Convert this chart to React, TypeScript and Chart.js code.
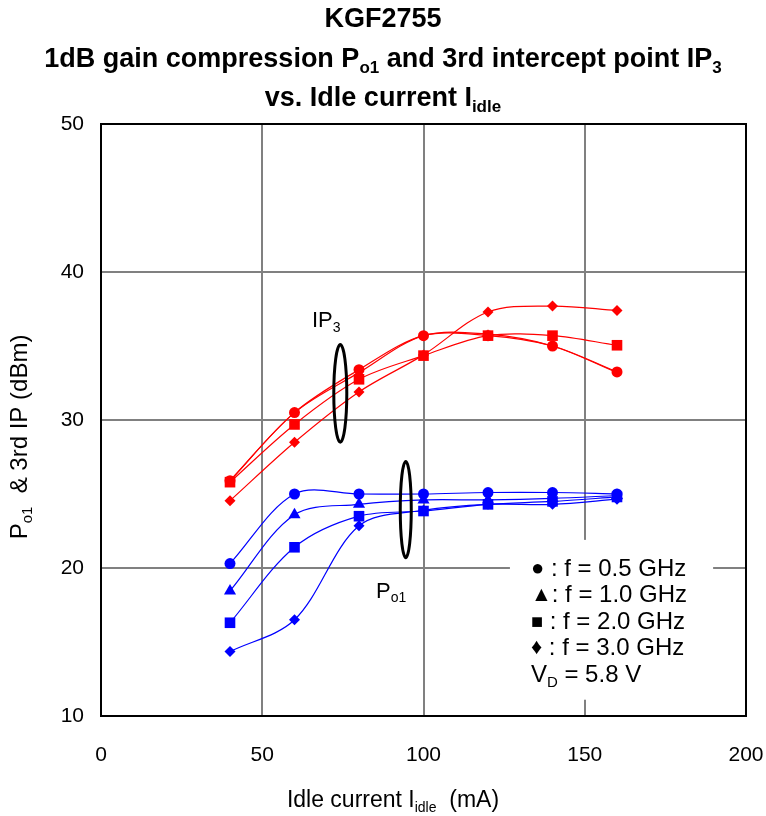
import React, { useEffect, useRef } from 'react';
import { Chart, registerables } from 'chart.js';
Chart.register(...registerables);

// Idle current (mA)
const currents = [40, 60, 80, 100, 120, 140, 160];
// IP3 (dBm)
const ip3_05 = [25.9, 30.5, 33.4, 35.7, 35.7, 35.0, 33.25];
const ip3_10 = [25.9, 30.5, 33.2, 35.7, 35.8, 35.0, 33.2];
const ip3_20 = [25.8, 29.7, 32.75, 34.35, 35.7, 35.7, 35.05];
const ip3_30 = [24.55, 28.5, 31.9, 34.4, 37.3, 37.7, 37.4];
// Po1 (dBm)
const po1_05 = [20.3, 25.0, 25.0, 25.0, 25.1, 25.1, 25.0];
const po1_10 = [18.45, 23.6, 24.3, 24.6, 24.6, 24.7, 24.9];
const po1_20 = [16.3, 21.4, 23.5, 23.85, 24.3, 24.5, 24.8];
const po1_30 = [14.35, 16.5, 22.85, 23.9, 24.3, 24.3, 24.65];

const xTickValues = [0, 50, 100, 150, 200];
const yTickValues = [10, 20, 30, 40, 50];

const legendLines = [
  ['●', ' : f = 0.5 GHz'],
  ['▲', ': f = 1.0 GHz'],
  ['■', ' : f = 2.0 GHz'],
  ['♦', ' : f = 3.0 GHz'],
];

const FONT = "Arial, 'Liberation Sans', sans-serif";
const RED = '#ff0000';
const BLUE = '#0000ff';

type Seg = { t: string; sub?: boolean };

function segFont(size: number, bold: boolean, sub?: boolean) {
  const s = sub ? Math.round(size * 0.62) : size;
  return `${bold ? 'bold ' : ''}${s}px ${FONT}`;
}
function richWidth(ctx: CanvasRenderingContext2D, segs: Seg[], size: number, bold: boolean) {
  let w = 0;
  for (const s of segs) {
    ctx.font = segFont(size, bold, s.sub);
    w += ctx.measureText(s.t).width;
  }
  return w;
}
function drawRich(
  ctx: CanvasRenderingContext2D,
  segs: Seg[],
  x: number,
  y: number,
  size: number,
  bold: boolean,
  align: 'left' | 'center'
) {
  const w = richWidth(ctx, segs, size, bold);
  let cx = align === 'center' ? x - w / 2 : x;
  ctx.textAlign = 'left';
  ctx.textBaseline = 'alphabetic';
  for (const s of segs) {
    ctx.font = segFont(size, bold, s.sub);
    ctx.fillText(s.t, cx, s.sub ? y + size * 0.22 : y);
    cx += ctx.measureText(s.t).width;
  }
}

function mk(label: string, vals: number[], color: string, style: string, radius: number) {
  return {
    label,
    data: currents.map((c, i) => ({ x: c, y: vals[i] })),
    borderColor: color,
    backgroundColor: color,
    borderWidth: 1.2,
    pointStyle: style,
    pointRadius: radius,
    pointBorderWidth: 0,
    pointBackgroundColor: color,
    tension: 0.33,
    fill: false,
  };
}

const decorPlugin = {
  id: 'decor',
  afterDatasetsDraw(chart: any) {
    const { ctx, chartArea, scales } = chart;
    const xs = scales.x;
    const ys = scales.y;
    ctx.save();
    // plot border
    ctx.strokeStyle = '#000';
    ctx.lineWidth = 2;
    ctx.strokeRect(chartArea.left, chartArea.top, chartArea.right - chartArea.left, chartArea.bottom - chartArea.top);

    // ellipses
    ctx.lineWidth = 3;
    const ell = (cxv: number, y1: number, y2: number, rx: number) => {
      const cx = xs.getPixelForValue(cxv);
      const p1 = ys.getPixelForValue(y1);
      const p2 = ys.getPixelForValue(y2);
      ctx.beginPath();
      ctx.ellipse(cx, (p1 + p2) / 2, rx, Math.abs(p1 - p2) / 2, 0, 0, Math.PI * 2);
      ctx.stroke();
    };
    ell(74.2, 35.1, 28.5, 6.5);
    ell(94.5, 27.2, 20.7, 5.5);

    ctx.fillStyle = '#000';
    drawRich(ctx, [{ t: 'IP' }, { t: '3', sub: true }], xs.getPixelForValue(65.4), ys.getPixelForValue(36.3), 22, false, 'left');
    drawRich(ctx, [{ t: 'P' }, { t: 'o1', sub: true }], xs.getPixelForValue(85.3), ys.getPixelForValue(18.0), 22, false, 'left');

    // legend box
    const bx = xs.getPixelForValue(126.8);
    const bx2 = xs.getPixelForValue(189.8);
    const by = ys.getPixelForValue(21.9);
    const by2 = ys.getPixelForValue(11.1);
    ctx.fillStyle = '#fff';
    ctx.fillRect(bx, by, bx2 - bx, by2 - by);
    ctx.fillStyle = '#000';
    const lx = bx + 21;
    let ly = by + 36;
    for (const [sym, txt] of legendLines) {
      ctx.font = `${sym === '■' ? 20 : sym === '▲' ? 21 : 22}px ${FONT}`;
      ctx.textAlign = 'left';
      ctx.textBaseline = 'alphabetic';
      ctx.fillText(sym, lx, ly - 1);
      const sw = ctx.measureText(sym).width;
      ctx.font = `24px ${FONT}`;
      ctx.fillText(txt, lx + sw, ly);
      ly += 26.5;
    }
    drawRich(ctx, [{ t: 'V' }, { t: 'D', sub: true }, { t: ' = 5.8 V' }], lx, ly, 24, false, 'left');

    // titles
    const W = chart.width;
    drawRich(ctx, [{ t: 'KGF2755' }], W / 2, 27, 27, true, 'center');
    drawRich(
      ctx,
      [{ t: '1dB gain compression P' }, { t: 'o1', sub: true }, { t: ' and 3rd intercept point IP' }, { t: '3', sub: true }],
      W / 2,
      67,
      27,
      true,
      'center'
    );
    drawRich(ctx, [{ t: 'vs. Idle current I' }, { t: 'idle', sub: true }], W / 2, 106, 27, true, 'center');

    // axis titles
    drawRich(ctx, [{ t: 'Idle current I' }, { t: 'idle', sub: true }, { t: '  (mA)' }], 393, 807, 23, false, 'center');
    ctx.save();
    ctx.translate(27, (chartArea.top + chartArea.bottom) / 2 + 17);
    ctx.rotate(-Math.PI / 2);
    drawRich(ctx, [{ t: 'P' }, { t: 'o1', sub: true }, { t: '  & 3rd IP (dBm)' }], 0, 0, 24, false, 'center');
    ctx.restore();

    ctx.restore();
  },
};

export default function App() {
  const ref = useRef<HTMLCanvasElement | null>(null);
  useEffect(() => {
    document.body.style.margin = '0';
    const canvas = ref.current!;
    const chart = new Chart(canvas, {
      type: 'line',
      data: {
        datasets: [
          mk('IP3 0.5', ip3_05, RED, 'circle', 5.5),
          mk('IP3 1.0', ip3_10, RED, 'triangle', 5),
          mk('IP3 2.0', ip3_20, RED, 'rect', 7.5),
          mk('IP3 3.0', ip3_30, RED, 'rectRot', 5.5),
          mk('Po1 0.5', po1_05, BLUE, 'circle', 5.5),
          mk('Po1 1.0', po1_10, BLUE, 'triangle', 7),
          mk('Po1 2.0', po1_20, BLUE, 'rect', 7.5),
          mk('Po1 3.0', po1_30, BLUE, 'rectRot', 5.5),
        ] as any,
      },
      options: {
        animation: false,
        responsive: false,
        layout: { padding: { left: 0, top: 124, right: 20, bottom: 0 } },
        plugins: { legend: { display: false }, title: { display: false }, tooltip: { enabled: false } },
        scales: {
          x: {
            type: 'linear',
            min: 0,
            max: 200,
            afterBuildTicks: (s: any) => {
              s.ticks = xTickValues.map((v) => ({ value: v }));
            },
            afterFit: (s: any) => {
              s.height = 100;
              s.paddingLeft = 0;
              s.paddingRight = 0;
            },
            grid: { color: '#808080', lineWidth: 2, drawTicks: false },
            border: { display: false },
            ticks: { color: '#000', font: { family: FONT, size: 21 }, padding: 27, maxRotation: 0 },
          },
          y: {
            type: 'linear',
            min: 10,
            max: 50,
            afterBuildTicks: (s: any) => {
              s.ticks = yTickValues.map((v) => ({ value: v }));
            },
            afterFit: (s: any) => {
              s.width = 101;
              s.paddingTop = 0;
              s.paddingBottom = 0;
            },
            grid: { color: '#808080', lineWidth: 2, drawTicks: false },
            border: { display: false },
            ticks: { color: '#000', font: { family: FONT, size: 21 }, padding: 17 },
          },
        },
      },
      plugins: [decorPlugin],
    });
    return () => chart.destroy();
  }, []);
  return (
    <div style={{ width: 766, height: 816 }}>
      <canvas ref={ref} width={766} height={816} />
    </div>
  );
}
